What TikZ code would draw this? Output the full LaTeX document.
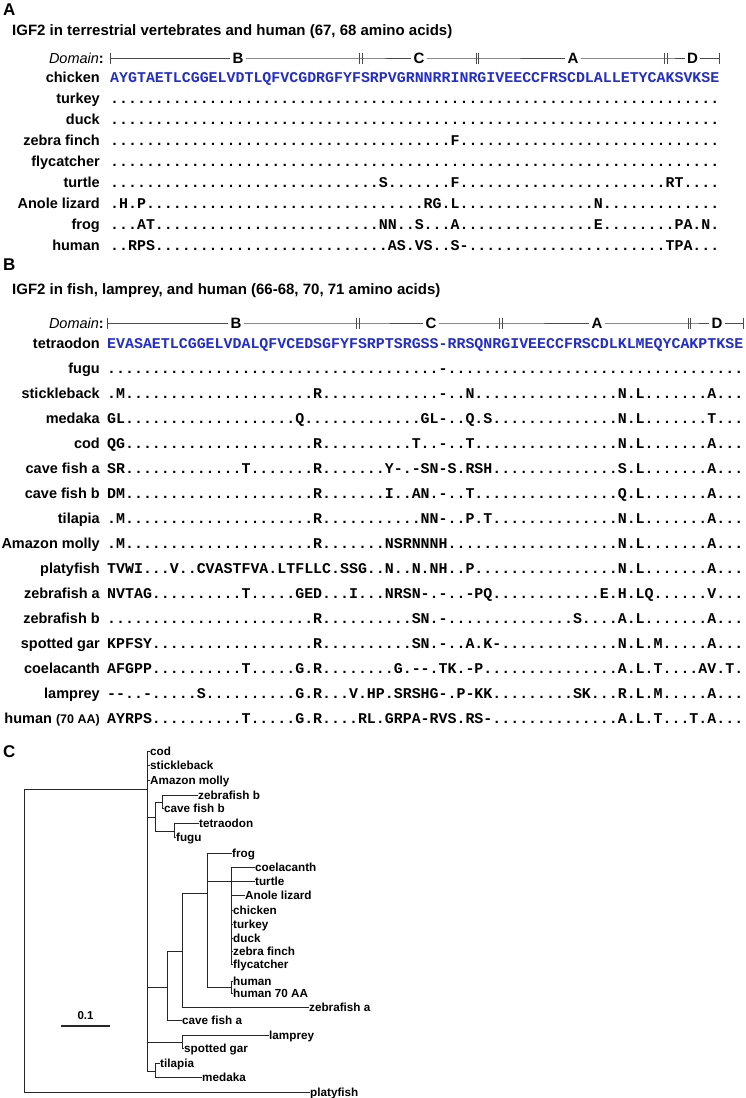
\documentclass[tikz,border=0pt]{standalone}
\usepackage{fontspec}
\setmainfont{Liberation Sans}
\setmonofont{Liberation Mono}
\usepackage{xcolor}
\usetikzlibrary{positioning}
\definecolor{seqblue}{RGB}{35,45,200}
\ExplSyntaxOn
\NewExpandableDocumentCommand\rundots{m}{\prg_replicate:nn{#1}{.}}
\ExplSyntaxOff
\newcommand{\splitbar}[1]{\draw[domline] ([xshift=-1.4pt,yshift=5.5pt]#1) -- ([xshift=-1.4pt,yshift=-5.5pt]#1) ([xshift=1.4pt,yshift=5.5pt]#1) -- ([xshift=1.4pt,yshift=-5.5pt]#1);}

\begin{document}
\begin{tikzpicture}[x=1pt, y=-1pt,
    panel/.style={anchor=base west, inner sep=0pt, font=\fontsize{17}{17}\selectfont\bfseries},
    headline/.style={anchor=base west, inner sep=0pt, font=\fontsize{15}{15}\selectfont\bfseries},
    rowlab/.style={anchor=base east, inner sep=0pt, font=\fontsize{14.5}{15}\selectfont\bfseries},
    seq/.style={anchor=base west, inner sep=0pt, font=\fontsize{14.93}{15}\selectfont\ttfamily\bfseries},
    refseq/.style={seq, text=seqblue},
    domlab/.style={inner sep=2pt, font=\fontsize{15}{15}\selectfont\bfseries},
    domline/.style={line width=0.8pt, draw=black!70},
    leaf/.style={anchor=west, inner sep=0.5pt, text height=8.4pt, text depth=0pt, font=\fontsize{11.7}{12}\selectfont\bfseries},
    branch/.style={line width=0.9pt, draw=black!85}]
    \fill[white] (0,0) rectangle (745,1098);
    \useasboundingbox (0,0) rectangle (745,1098);

    % A
    \node[panel] (pA) at (3,15) {A};
    \node[headline] (tA) at (12,35.5) {IGF2 in terrestrial vertebrates and human (67, 68 amino acids)};
    \node[rowlab] (aDom) at (104,63) {{\mdseries\itshape Domain}:};
    \coordinate (aD0) at (110,58);
    \coordinate (aD1) at (360.9,58);
    \coordinate (aD2) at (477.4,58);
    \coordinate (aD3) at (665.5,58);
    \coordinate (aD4) at (719.3,58);
    \node[domlab] (aDB) at (238,58) {B};
    \node[domlab] (aDC) at (419,58) {C};
    \node[domlab] (aDA) at (573,58) {A};
    \node[domlab] (aDD) at (692.5,58) {D};
    \draw[domline] (aD0) -- (aDB) -- (aD1) -- (aDC) -- (aD2) -- (aDA) -- (aD3) -- (aDD) -- (aD4);
    \draw[domline] ([yshift=5.5pt]aD0) -- ([yshift=-5.5pt]aD0) ([yshift=5.5pt]aD4) -- ([yshift=-5.5pt]aD4);
    \splitbar{aD1}
    \splitbar{aD2}
    \splitbar{aD3}

    \node[rowlab] (lchicken) at (100,82) {chicken};
    \node[refseq] (schicken) at (110,82) {AYGTAETLCGGELVDTLQFVCGDRGFYFSRPVGRNNRRINRGIVEECCFRSCDLALLETYCAKSVKSE};
    \node[rowlab] (lturkey) at (100,103) {turkey};
    \node[seq] (sturkey) at (110,103) {\rundots{68}};
    \node[rowlab] (lduck) at (100,124) {duck};
    \node[seq] (sduck) at (110,124) {\rundots{68}};
    \node[rowlab] (lzfinch) at (100,145) {zebra finch};
    \node[seq] (szfinch) at (110,145) {\rundots{38}F\rundots{29}};
    \node[rowlab] (lflycatcher) at (100,166) {flycatcher};
    \node[seq] (sflycatcher) at (110,166) {\rundots{68}};
    \node[rowlab] (lturtle) at (100,187) {turtle};
    \node[seq] (sturtle) at (110,187) {\rundots{30}S\rundots{7}F\rundots{23}RT\rundots{4}};
    \node[rowlab] (lanole) at (100,208) {Anole lizard};
    \node[seq] (sanole) at (110,208) {.H.P\rundots{31}RG.L\rundots{15}N\rundots{13}};
    \node[rowlab] (lfrog) at (100,229) {frog};
    \node[seq] (sfrog) at (110,229) {...AT\rundots{25}NN..S...A\rundots{15}E\rundots{8}PA.N.};
    \node[rowlab] (lhumanA) at (100,250) {human};
    \node[seq] (shumanA) at (110,250) {..RPS\rundots{25}.AS.VS..S-.\rundots{21}TPA...};

    % B
    \node[panel] (pB) at (3,270) {B};
    \node[headline] (tB) at (12,294.5) {IGF2 in fish, lamprey, and human (66-68, 70, 71 amino acids)};
    \node[rowlab] (bDom) at (104,328) {{\mdseries\itshape Domain}:};
    \coordinate (bD0) at (107,323);
    \coordinate (bD1) at (357.9,323);
    \coordinate (bD2) at (501.2,323);
    \coordinate (bD3) at (689.4,323);
    \coordinate (bD4) at (743.2,323);
    \node[domlab] (bDB) at (236,323) {B};
    \node[domlab] (bDC) at (431,323) {C};
    \node[domlab] (bDA) at (597,323) {A};
    \node[domlab] (bDD) at (717,323) {D};
    \draw[domline] (bD0) -- (bDB) -- (bD1) -- (bDC) -- (bD2) -- (bDA) -- (bD3) -- (bDD) -- (bD4);
    \draw[domline] ([yshift=5.5pt]bD0) -- ([yshift=-5.5pt]bD0) ([yshift=5.5pt]bD4) -- ([yshift=-5.5pt]bD4);
    \splitbar{bD1}
    \splitbar{bD2}
    \splitbar{bD3}

    \node[rowlab] (ltetra) at (100,348) {tetraodon};
    \node[refseq] (stetra) at (107,348) {EVASAETLCGGELVDALQFVCEDSGFYFSRPTSRGSS-RRSQNRGIVEECCFRSCDLKLMEQYCAKPTKSE};
    \node[rowlab] (lfugu) at (100,373) {fugu};
    \node[seq] (sfugu) at (107,373) {\rundots{37}-\rundots{33}};
    \node[rowlab] (lstickle) at (100,398) {stickleback};
    \node[seq] (sstickle) at (107,398) {.M\rundots{21}R\rundots{13}-..N\rundots{16}N.L\rundots{7}A...};
    \node[rowlab] (lmedaka) at (100,423) {medaka};
    \node[seq] (smedaka) at (107,423) {GL\rundots{19}Q\rundots{13}GL-..Q.S\rundots{14}N.L\rundots{7}T...};
    \node[rowlab] (lcod) at (100,448) {cod};
    \node[seq] (scod) at (107,448) {QG\rundots{21}R\rundots{10}T..-..T\rundots{16}N.L\rundots{7}A...};
    \node[rowlab] (lcavea) at (100,473) {cave fish a};
    \node[seq] (scavea) at (107,473) {SR\rundots{13}T\rundots{7}R\rundots{7}Y-.-SN-S.RSH\rundots{14}S.L\rundots{7}A...};
    \node[rowlab] (lcaveb) at (100,498) {cave fish b};
    \node[seq] (scaveb) at (107,498) {DM\rundots{21}R\rundots{7}I..AN.-..T\rundots{16}Q.L\rundots{7}A...};
    \node[rowlab] (ltilapia) at (100,523) {tilapia};
    \node[seq] (stilapia) at (107,523) {.M\rundots{21}R\rundots{11}NN-..P.T\rundots{14}N.L\rundots{7}A...};
    \node[rowlab] (lmolly) at (100,548) {Amazon molly};
    \node[seq] (smolly) at (107,548) {.M\rundots{21}R\rundots{7}NSRNNNH\rundots{19}N.L\rundots{7}A...};
    \node[rowlab] (lplaty) at (100,573) {platyfish};
    \node[seq] (splaty) at (107,573) {TVWI...V..CVASTFVA.LTFLLC.SSG..N..N.NH..P\rundots{16}N.L\rundots{7}A...};
    \node[rowlab] (lzfa) at (100,598) {zebrafish a};
    \node[seq] (szfa) at (107,598) {NVTAG\rundots{10}T\rundots{5}GED...I...NRSN-.-..-PQ\rundots{12}E.H.LQ\rundots{6}V...};
    \node[rowlab] (lzfb) at (100,623) {zebrafish b};
    \node[seq] (szfb) at (107,623) {\rundots{23}R\rundots{10}SN.-\rundots{14}S\rundots{4}A.L\rundots{7}A...};
    \node[rowlab] (lgar) at (100,648) {spotted gar};
    \node[seq] (sgar) at (107,648) {KPFSY\rundots{18}R\rundots{10}SN.-..A.K-\rundots{13}N.L.M\rundots{5}A...};
    \node[rowlab] (lcoel) at (100,673) {coelacanth};
    \node[seq] (scoel) at (107,673) {AFGPP\rundots{10}T\rundots{5}G.R\rundots{8}G.--.TK.-P\rundots{15}A.L.T....AV.T.};
    \node[rowlab] (llamprey) at (100,698) {lamprey};
    \node[seq] (slamprey) at (107,698) {--..-\rundots{5}S\rundots{10}G.R...V.HP.SRSHG-.P-KK\rundots{9}SK...R.L.M\rundots{5}A...};
    \node[rowlab] (lhumanB) at (100,723) {human {\fontsize{12.5}{12.5}\selectfont (70 AA)}};
    \node[seq] (shumanB) at (107,723) {AYRPS\rundots{10}T\rundots{5}G.R\rundots{4}RL.GRPA-RVS.RS-.\rundots{13}A.L.T...T.A...};

    % C
    \node[panel] (pC) at (3,757) {C};
    \coordinate (root) at (24,940);
    \coordinate (core) at (147,789);
    \coordinate (pf1) at (155,817);
    \coordinate (pf1a) at (162,802);
    \coordinate (pf1b) at (174,831);
    \coordinate (big) at (167,987);
    \coordinate (big1) at (182,951);
    \coordinate (tet) at (207,893);
    \coordinate (amn) at (231,881);
    \coordinate (hom) at (231,987);
    \coordinate (lg) at (182,1042);
    \coordinate (tm) at (155,1071);

    \node[leaf] (tcod) at (149.5,751) {cod};
    \node[leaf] (tstickle) at (149.5,765) {stickleback};
    \node[leaf] (tmolly) at (149.5,780) {Amazon molly};
    \node[leaf] (tzfb) at (197.5,795) {zebrafish b};
    \node[leaf] (tcaveb) at (163.5,808) {cave fish b};
    \node[leaf] (ttetra) at (198.5,823) {tetraodon};
    \node[leaf] (tfugu) at (175.5,837) {fugu};
    \node[leaf] (tfrog) at (231.5,853) {frog};
    \node[leaf] (tcoel) at (254.5,867) {coelacanth};
    \node[leaf] (tturtle) at (254.5,881) {turtle};
    \node[leaf] (tanole) at (244.5,895) {Anole lizard};
    \node[leaf] (tchicken) at (232.5,910) {chicken};
    \node[leaf] (tturkey) at (232.5,924) {turkey};
    \node[leaf] (tduck) at (232.5,938) {duck};
    \node[leaf] (tzfinch) at (232.5,951) {zebra finch};
    \node[leaf] (tfly) at (232.5,964) {flycatcher};
    \node[leaf] (thuman) at (232.5,981) {human};
    \node[leaf] (thuman70) at (232.5,993) {human 70 AA};
    \node[leaf] (tzfa) at (308.5,1007) {zebrafish a};
    \node[leaf] (tcavea) at (181.5,1020) {cave fish a};
    \node[leaf] (tlamprey) at (268.5,1035) {lamprey};
    \node[leaf] (tgar) at (183.5,1048) {spotted gar};
    \node[leaf] (ttilapia) at (159.5,1063) {tilapia};
    \node[leaf] (tmedaka) at (201.5,1077) {medaka};
    \node[leaf] (tplaty) at (309.5,1092) {platyfish};

    \draw[branch] (root) |- (core) (root) |- (tplaty.west);
    \draw[branch] (core) |- (tcod.west) (core) |- (tstickle.west) (core) |- (tmolly.west)
        (core) |- (pf1) (core) |- (big) (core) |- (lg) (core) |- (tm);
    \draw[branch] (pf1) |- (pf1a) (pf1) |- (pf1b);
    \draw[branch] (pf1a) |- (tzfb.west) (pf1a) |- (tcaveb.west);
    \draw[branch] (pf1b) |- (ttetra.west) (pf1b) |- (tfugu.west);
    \draw[branch] (big) |- (big1) (big) |- (tcavea.west);
    \draw[branch] (big1) |- (tet) (big1) |- (tzfa.west);
    \draw[branch] (tet) |- (tfrog.west) (tet) |- (amn) (tet) |- (hom);
    \draw[branch] (amn) |- (tcoel.west) (amn) |- (tturtle.west) (amn) |- (tanole.west)
        (amn) |- (tchicken.west) (amn) |- (tturkey.west) (amn) |- (tduck.west)
        (amn) |- (tzfinch.west) (amn) |- (tfly.west);
    \draw[branch] (hom) |- (thuman.west) (hom) |- (thuman70.west);
    \draw[branch] (lg) |- (tlamprey.west) (lg) |- (tgar.west);
    \draw[branch] (tm) |- (ttilapia.west) (tm) |- (tmedaka.west);

    \node[inner sep=0pt, font=\fontsize{11.5}{12}\selectfont\bfseries] (scale) at (85.5,1016) {0.1};
    \coordinate (sc1) at (61,1026);
    \coordinate (sc2) at (110,1026);
    \draw[line width=1.4pt, black!85] (sc1) -- (sc2);
\end{tikzpicture}
\end{document}
